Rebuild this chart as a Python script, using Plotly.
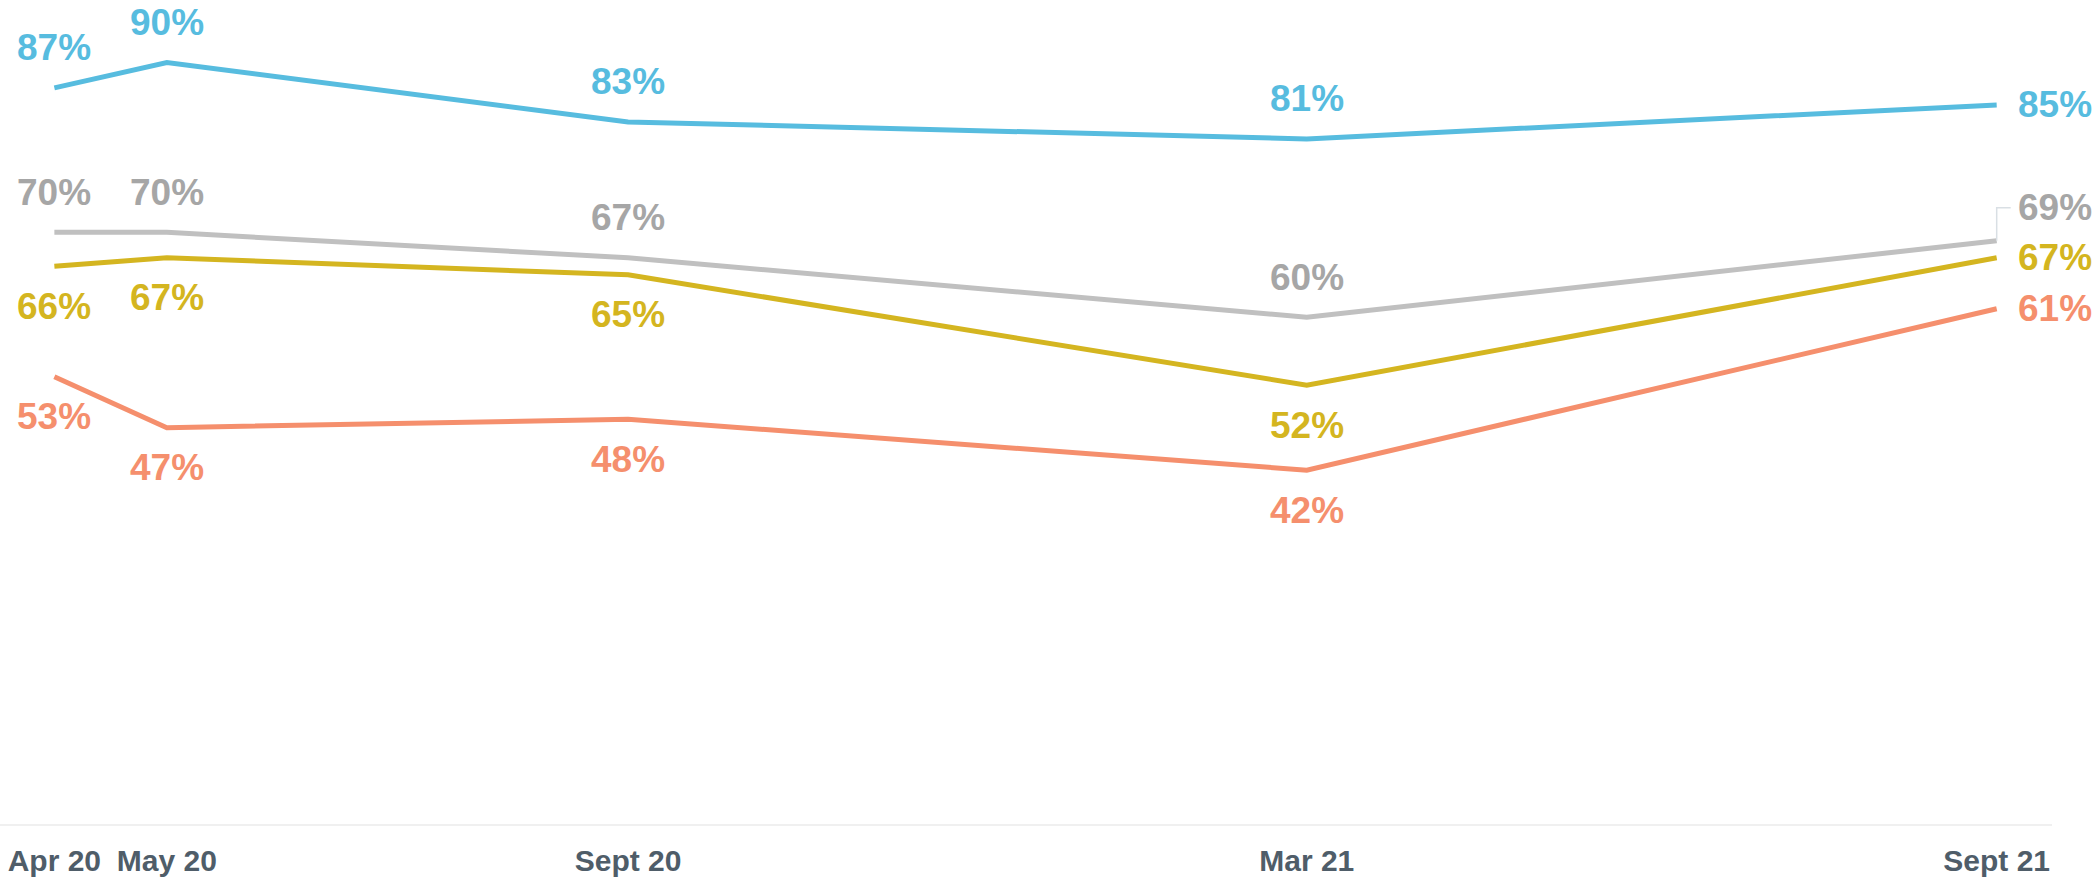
import plotly.graph_objects as go

dates = ["2020-04-01", "2020-05-01", "2020-09-01", "2021-03-01", "2021-09-01"]
tick_labels = ["Apr 20", "May 20", "Sept 20", "Mar 21", "Sept 21"]

blue_vals = [87, 90, 83, 81, 85]
grey_vals = [70, 70, 67, 60, 69]
yellow_vals = [66, 67, 65, 52, 67]
orange_vals = [53, 47, 48, 42, 61]

series = [
    ("blue", blue_vals, "#57bcdf", "#57bcdf", 40),
    ("grey", grey_vals, "#c0c0c0", "#a6a6a6", 40),
    ("yellow", yellow_vals, "#d4b520", "#d4b520", -40),
    ("orange", orange_vals, "#f58f6d", "#f58f6d", -40),
]

FONT = "Liberation Sans, Arial, sans-serif"
fig = go.Figure()
annotations = []
for name, vals, lc, tc, shift in series:
    fig.add_trace(go.Scatter(x=dates, y=vals, mode="lines", name=name,
                             line=dict(color=lc, width=5), hoverinfo="skip",
                             showlegend=False))
    for i, (d, v) in enumerate(zip(dates, vals)):
        if i < len(dates) - 1:
            annotations.append(dict(x=d, y=v, text=f"<b>{v}%</b>", showarrow=False,
                                    yshift=shift, xanchor="center", yanchor="middle",
                                    font=dict(family=FONT, size=37, color=tc)))
        else:
            ys = 33 if name == "grey" else 0
            annotations.append(dict(x=d, y=v, text=f"<b>{v}%</b>", showarrow=False,
                                    xshift=19, yshift=ys, xanchor="left", yanchor="middle",
                                    font=dict(family=FONT, size=37, color=tc)))

shapes = [dict(type="path", xref="x", yref="y", xsizemode="pixel", ysizemode="pixel",
               xanchor=dates[-1], yanchor=grey_vals[-1],
               path="M0,0 L0,33 L14,33", line=dict(color="#d9dfe4", width=1.5))]

fig.update_layout(
    width=2094, height=880,
    margin=dict(l=0, r=42, t=0, b=56, autoexpand=False),
    paper_bgcolor="white", plot_bgcolor="white",
    annotations=annotations, shapes=shapes,
    xaxis=dict(type="date", range=["2020-03-17 12:00", "2021-09-15 18:00"],
               tickvals=dates, ticktext=[f"<b>{t}</b>" for t in tick_labels],
               tickfont=dict(family=FONT, size=30, color="#4f5d69"),
               showgrid=False, zeroline=False, showline=True, linecolor="#f0f0f0",
               linewidth=2, ticks="", automargin=False, ticklabelstandoff=9),
    yaxis=dict(range=[0.35, 97.35], visible=False, showgrid=False, zeroline=False),
)
fig.write_html("out.html", config={"displayModeBar": False},
               post_script="document.body.style.margin='0px';document.body.style.overflow='hidden';")
